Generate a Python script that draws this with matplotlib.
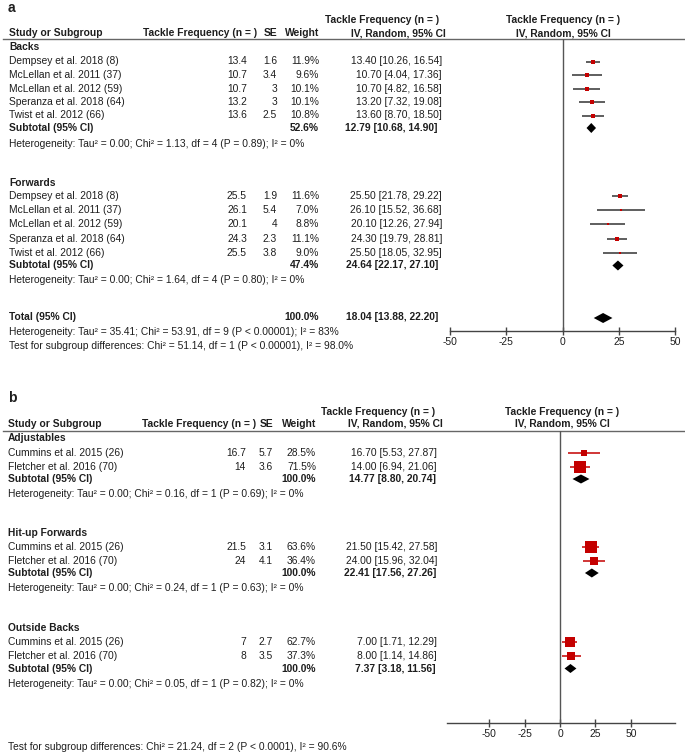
import matplotlib
matplotlib.use("Agg")
import matplotlib.pyplot as plt

plt.rcParams['font.family'] = ['Liberation Sans', 'DejaVu Sans']

# ---------------- data: panel a ----------------
a_studies = ["Dempsey et al. 2018 (8)", "McLellan et al. 2011 (37)", "McLellan et al. 2012 (59)",
             "Speranza et al. 2018 (64)", "Twist et al. 2012 (66)"]
a_groups = ["Backs", "Forwards"]
a_tf = [[13.4, 10.7, 10.7, 13.2, 13.6], [25.5, 26.1, 20.1, 24.3, 25.5]]
a_se = [[1.6, 3.4, 3, 3, 2.5], [1.9, 5.4, 4, 2.3, 3.8]]
a_w = [[11.9, 9.6, 10.1, 10.1, 10.8], [11.6, 7.0, 8.8, 11.1, 9.0]]
a_lo = [[10.26, 4.04, 4.82, 7.32, 8.70], [21.78, 15.52, 12.26, 19.79, 18.05]]
a_hi = [[16.54, 17.36, 16.58, 19.08, 18.50], [29.22, 36.68, 27.94, 28.81, 32.95]]
a_sub_est = [12.79, 24.64]
a_sub_lo = [10.68, 22.17]
a_sub_hi = [14.90, 27.10]
a_sub_w = [52.6, 47.4]
a_het = ["Heterogeneity: Tau\u00b2 = 0.00; Chi\u00b2 = 1.13, df = 4 (P = 0.89); I\u00b2 = 0%",
         "Heterogeneity: Tau\u00b2 = 0.00; Chi\u00b2 = 1.64, df = 4 (P = 0.80); I\u00b2 = 0%"]
a_total = [18.04, 13.88, 22.20, 100.0]
a_total_het = "Heterogeneity: Tau\u00b2 = 35.41; Chi\u00b2 = 53.91, df = 9 (P < 0.00001); I\u00b2 = 83%"
a_test = "Test for subgroup differences: Chi\u00b2 = 51.14, df = 1 (P < 0.00001), I\u00b2 = 98.0%"

# ---------------- data: panel b ----------------
b_studies = ["Cummins et al. 2015 (26)", "Fletcher et al. 2016 (70)"]
b_groups = ["Adjustables", "Hit-up Forwards", "Outside Backs"]
b_tf = [[16.7, 14], [21.5, 24], [7, 8]]
b_se = [[5.7, 3.6], [3.1, 4.1], [2.7, 3.5]]
b_w = [[28.5, 71.5], [63.6, 36.4], [62.7, 37.3]]
b_lo = [[5.53, 6.94], [15.42, 15.96], [1.71, 1.14]]
b_hi = [[27.87, 21.06], [27.58, 32.04], [12.29, 14.86]]
b_sub_est = [14.77, 22.41, 7.37]
b_sub_lo = [8.80, 17.56, 3.18]
b_sub_hi = [20.74, 27.26, 11.56]
b_sub_w = [100.0, 100.0, 100.0]
b_het = ["Heterogeneity: Tau\u00b2 = 0.00; Chi\u00b2 = 0.16, df = 1 (P = 0.69); I\u00b2 = 0%",
         "Heterogeneity: Tau\u00b2 = 0.00; Chi\u00b2 = 0.24, df = 1 (P = 0.63); I\u00b2 = 0%",
         "Heterogeneity: Tau\u00b2 = 0.00; Chi\u00b2 = 0.05, df = 1 (P = 0.82); I\u00b2 = 0%"]
b_test = "Test for subgroup differences: Chi\u00b2 = 21.24, df = 2 (P < 0.0001), I\u00b2 = 90.6%"

ticks = [-50, -25, 0, 25, 50]
tick_labels = ["-50", "-25", "0", "25", "50"]
col_hdr_tf = "Tackle Frequency (n = )"
col_hdr_ci = "IV, Random, 95% CI"

# ---------------- layout ----------------
W, H = 685, 756
FS = 7.4
TXT = '#1e1e1e'
RED = '#c40000'

fig = plt.figure(figsize=(W / 100, H / 100), dpi=100)
tax = fig.add_axes([0, 0, 1, 1])
tax.set_xlim(0, W)
tax.set_ylim(H, 0)
tax.axis('off')
tax.patch.set_visible(False)


def t(x, y, s, ha='left', bold=False, size=FS):
    tax.text(x, y, s, ha=ha, va='center', fontsize=size, color=TXT,
             fontweight='bold' if bold else 'normal')


def fmt_ci(e, lo, hi):
    return f"{e:.2f} [{lo:.2f}, {hi:.2f}]"


def plot_ax(left, right, top, bottom, xlim):
    ax = fig.add_axes([left / W, 1 - bottom / H, (right - left) / W, (bottom - top) / H])
    ax.set_xlim(*xlim)
    ax.set_ylim(bottom, top)
    ax.patch.set_visible(False)
    for s in ['top', 'right', 'left']:
        ax.spines[s].set_visible(False)
    ax.spines['bottom'].set_color('#444')
    ax.spines['bottom'].set_linewidth(1)
    ax.set_yticks([])
    ax.set_xticks(ticks)
    ax.set_xticklabels(tick_labels)
    ax.tick_params(axis='x', direction='inout', length=6, width=1, colors='#444',
                   labelcolor=TXT, labelsize=FS, pad=1.5)
    ax.axvline(0, color='#555', lw=1)
    return ax


def sq_size(w):
    return 12 * (w / 71.5) ** 0.68 * 0.72


def headers(cols, y1, y2, yline, center):
    t(cols['name'], y2, "Study or Subgroup", bold=True)
    t(cols['tfh'], y2, col_hdr_tf, bold=True)
    t(cols['se'], y2, "SE", ha='right', bold=True)
    t(cols['w'], y2, "Weight", ha='right', bold=True)
    t(cols['h1'], y1, col_hdr_tf, bold=True)
    t(cols['h2'], y2, col_hdr_ci, ha='right', bold=True)
    t(center, y1, col_hdr_tf, ha='center', bold=True)
    t(center, y2, col_hdr_ci, ha='center', bold=True)
    tax.plot([3, W], [yline, yline], color='#666', lw=1)


def panel(ax, cols, names, groups, tf, se, w, lo, hi, sest, slo, shi, sw, het,
          grp_y, study_y, sub_y, het_y, ci_col, dh):
    for g in range(len(groups)):
        t(cols['name'], grp_y[g], groups[g], bold=True)
        for i in range(len(names)):
            y = study_y[g][i]
            t(cols['name'], y, names[i])
            t(cols['tf'], y, f"{tf[g][i]:g}", ha='right')
            t(cols['se'], y, f"{se[g][i]:g}", ha='right')
            t(cols['w'], y, f"{w[g][i]:.1f}%", ha='right')
            t(cols['ci'], y, fmt_ci(tf[g][i], lo[g][i], hi[g][i]), ha='right')
            ax.plot([lo[g][i], hi[g][i]], [y, y], color=ci_col, lw=1.1, solid_capstyle='butt')
            ax.plot([tf[g][i]], [y], marker='s', ms=sq_size(w[g][i]), color=RED,
                    mew=0, linestyle='none')
        ys = sub_y[g]
        t(cols['name'], ys, "Subtotal (95% CI)", bold=True)
        t(cols['w'], ys, f"{sw[g]:.1f}%", ha='right', bold=True)
        t(cols['cib'], ys, fmt_ci(sest[g], slo[g], shi[g]), ha='right', bold=True)
        ax.fill([slo[g], sest[g], shi[g], sest[g]], [ys, ys - dh, ys, ys + dh], color='black', lw=0)
        t(cols['name'], het_y[g], het[g])


# ---- panel a ----
t(8, 8, "a", bold=True, size=10)
cols_a = dict(name=9, tfh=143, tf=247, se=277, w=319, ci=442, cib=438, h1=325, h2=446)
headers(cols_a, 20, 33, 38.5, 563)
ax_a = plot_ax(450, 675, 38.5, 331, (-50, 50))
panel(ax_a, cols_a, a_studies, a_groups, a_tf, a_se, a_w, a_lo, a_hi,
      a_sub_est, a_sub_lo, a_sub_hi, a_sub_w, a_het,
      grp_y=[47, 183],
      study_y=[[61.5, 75, 88.5, 102, 115.5], [196, 210, 224, 238.5, 252.5]],
      sub_y=[128, 265.5], het_y=[144, 280], ci_col='#333', dh=5)
t(cols_a['name'], 317, "Total (95% CI)", bold=True)
t(cols_a['w'], 317, f"{a_total[3]:.1f}%", ha='right', bold=True)
t(cols_a['cib'], 317, fmt_ci(a_total[0], a_total[1], a_total[2]), ha='right', bold=True)
ax_a.fill([a_total[1], a_total[0], a_total[2], a_total[0]], [318, 313, 318, 323], color='black', lw=0)
t(cols_a['name'], 332, a_total_het)
t(cols_a['name'], 346, a_test)

# ---- panel b ----
t(8, 398, "b", bold=True, size=10)
cols_b = dict(name=8, tfh=142, tf=246, se=273, w=316, ci=437, cib=436, h1=321, h2=443)
headers(cols_b, 412, 424, 431, 562)
ax_b = plot_ax(447, 675, 431, 723, (-79.6, 81.0))
panel(ax_b, cols_b, b_studies, b_groups, b_tf, b_se, b_w, b_lo, b_hi,
      b_sub_est, b_sub_lo, b_sub_hi, b_sub_w, b_het,
      grp_y=[438, 533, 628],
      study_y=[[452.5, 466.5], [546.5, 560.5], [642, 656]],
      sub_y=[479, 573, 668.5], het_y=[494, 588, 684], ci_col=RED, dh=4.5)
t(cols_b['name'], 747, b_test)

fig.savefig("out.png", dpi=100)
